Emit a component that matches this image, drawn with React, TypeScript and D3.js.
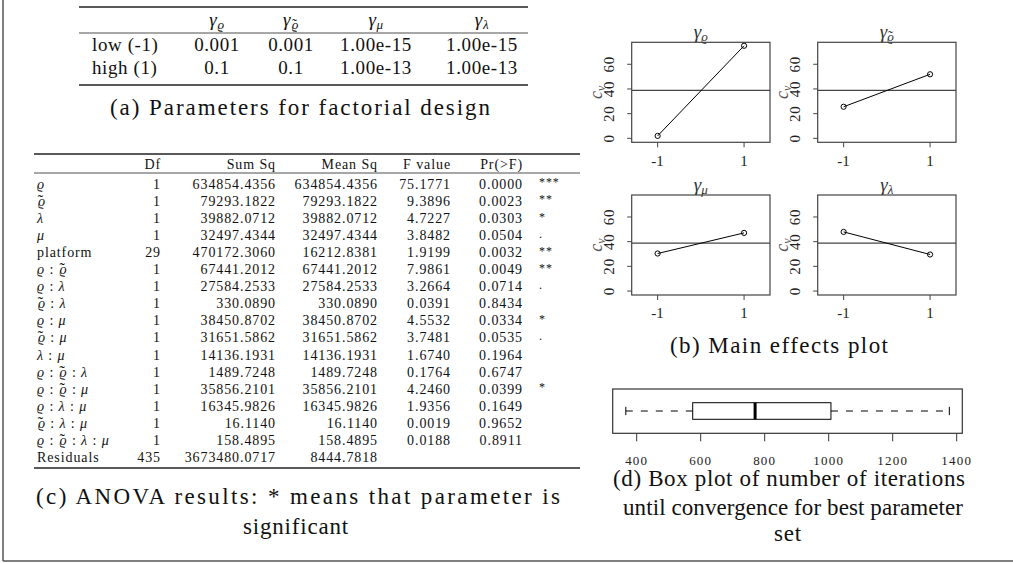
import React from "react";
import * as d3 from "d3";

const FONT = "'Liberation Serif', 'DejaVu Serif', serif";

// ---------- (a) factorial design parameters ----------
const designSubs = ["ϱ", "ϱ~", "μ", "λ"];
const designRowLabels = ["low (-1)", "high (1)"];
const designLowValues = ["0.001", "0.001", "1.00e-15", "1.00e-15"];
const designHighValues = ["0.1", "0.1", "1.00e-13", "1.00e-13"];
const designCaption = "(a) Parameters for factorial design";

// ---------- (c) ANOVA ----------
const anovaHeaders = ["Df", "Sum Sq", "Mean Sq", "F value", "Pr(>F)"];
const anovaTerms = [
  ["ϱ"], ["ϱ~"], ["λ"], ["μ"], ["platform"],
  ["ϱ", "ϱ~"], ["ϱ", "λ"], ["ϱ~", "λ"], ["ϱ", "μ"], ["ϱ~", "μ"], ["λ", "μ"],
  ["ϱ", "ϱ~", "λ"], ["ϱ", "ϱ~", "μ"], ["ϱ", "λ", "μ"], ["ϱ~", "λ", "μ"],
  ["ϱ", "ϱ~", "λ", "μ"], ["Residuals"],
];
const anovaDf = ["1", "1", "1", "1", "29", "1", "1", "1", "1", "1", "1", "1", "1", "1", "1", "1", "435"];
const anovaSumSq = [
  "634854.4356", "79293.1822", "39882.0712", "32497.4344", "470172.3060",
  "67441.2012", "27584.2533", "330.0890", "38450.8702", "31651.5862", "14136.1931",
  "1489.7248", "35856.2101", "16345.9826", "16.1140", "158.4895", "3673480.0717",
];
const anovaMeanSq = [
  "634854.4356", "79293.1822", "39882.0712", "32497.4344", "16212.8381",
  "67441.2012", "27584.2533", "330.0890", "38450.8702", "31651.5862", "14136.1931",
  "1489.7248", "35856.2101", "16345.9826", "16.1140", "158.4895", "8444.7818",
];
const anovaF = [
  "75.1771", "9.3896", "4.7227", "3.8482", "1.9199", "7.9861", "3.2664", "0.0391",
  "4.5532", "3.7481", "1.6740", "0.1764", "4.2460", "1.9356", "0.0019", "0.0188", "",
];
const anovaP = [
  "0.0000", "0.0023", "0.0303", "0.0504", "0.0032", "0.0049", "0.0714", "0.8434",
  "0.0334", "0.0535", "0.1964", "0.6747", "0.0399", "0.1649", "0.9652", "0.8911", "",
];
const anovaSig = ["***", "**", "*", ".", "**", "**", ".", "", "*", ".", "", "", "*", "", "", "", ""];
const anovaCaption1 = "(c) ANOVA results: * means that parameter is";
const anovaCaption2 = "significant";

// ---------- (b) main effects ----------
const effectSubs = ["ϱ", "ϱ~", "μ", "λ"];
const effectLevels = [-1, 1];
const effectLow = [2, 25.6, 30.4, 47.9];
const effectHigh = [75, 51.9, 47.1, 29.6];
const grandMean = 38.8;
const effectYTicks = [0, 20, 40, 60];
const effectsCaption = "(b) Main effects plot";

// ---------- (d) box plot ----------
const iterStats = [366, 575, 770, 1007, 1377]; // whisker lo, Q1, median, Q3, whisker hi
const iterTicks = [400, 600, 800, 1000, 1200, 1400];
const boxCaption = [
  "(d) Box plot of number of iterations",
  "until convergence for best parameter",
  "set",
];

const isWord = (p: string) => p.length > 2;

// renders a math symbol; "ϱ~" = varrho with a tilde on top
function sym(p: string, f: number, key: string, italic = true) {
  if (p === "ϱ~") {
    return [
      <tspan key={key + "b"} fontStyle="normal" fontSize={f * 1.15} dx={0.06 * f}>
        {"˜"}
      </tspan>,
      <tspan key={key + "a"} fontStyle="italic" fontSize={f} dx={-0.443 * f}>ϱ</tspan>,
    ];
  }
  return [
    <tspan key={key} fontStyle={italic ? "italic" : "normal"}>{p}</tspan>,
  ];
}

function Term({ parts, f }: { parts: string[]; f: number }) {
  const nodes: any[] = [];
  parts.forEach((p, i) => {
    if (i > 0) nodes.push(<tspan key={"c" + i} fontStyle="normal">{"\u00A0:\u00A0"}</tspan>);
    nodes.push(...sym(p, f, "p" + i, !isWord(p)));
  });
  return <>{nodes}</>;
}

function GammaSub({ sub, size, subSize, dy }: { sub: string; size: number; subSize: number; dy: number }) {
  return (
    <>
      <tspan fontStyle="italic" fontSize={size}>γ</tspan>
      <tspan fontSize={subSize} dy={dy}>{sym(sub, subSize, "s")}</tspan>
    </>
  );
}

export default function App() {
  const W = 1013;
  const H = 564;

  // ----- table (a) -----
  const aRuleX = [79, 528];
  const aColX = [217, 291, 376, 482];
  const aRowY = d3.scalePoint<string>().domain(["h", ...designRowLabels]).range([22, 67]);
  const aRows = [designLowValues, designHighValues];
  const aFont = 19;

  // ----- table (c) -----
  const cRuleX = [34, 580];
  const cRowY = d3.scaleLinear().domain([0, anovaTerms.length - 1]).range([184, 457]);
  const cRight = [161, 276, 378, 451, 523];
  const cCols = [anovaDf, anovaSumSq, anovaMeanSq, anovaF, anovaP];
  const cFont = 14;
  const cLS = 0.9;
  const cBase = (r: number) => cRowY(r) + 0.35 * cFont;

  // ----- main effects -----
  const pw = 138.3;
  const ph = 100;
  const ex = d3.scaleLinear().domain([-1.6, 1.6]).range([0, pw]);
  const ey = d3.scaleLinear().domain([-3.2, 77.8]).range([ph, 0]);
  const panelPos = [
    [631.7, 42.3],
    [817.7, 42.3],
    [631.7, 195],
    [817.7, 195],
  ];
  const effLine = d3
    .line<[number, number]>()
    .x((d) => ex(d[0]))
    .y((d) => ey(d[1]));

  // ----- box plot -----
  const bx = d3.scaleLinear().domain([325, 1417.5]).range([612.7, 962.3]);
  const bTop = 389;
  const bBottom = 433.3;
  const bMid = 411;
  const bHalf = 8.3;

  const textColor = "#111";
  const capFont = 23;

  return (
    <svg
      width={W}
      height={H}
      viewBox={`0 0 ${W} ${H}`}
      style={{ position: "absolute", left: 0, top: 0, background: "#fff" }}
      fontFamily={FONT}
    >
      <rect width={W} height={H} fill="#fff" />
      {/* outer frame */}
      <line x1={3} y1={0} x2={3} y2={561} stroke="#555" strokeWidth={1.5} />
      <line x1={3} y1={561} x2={W} y2={561} stroke="#555" strokeWidth={1.5} />

      {/* ===== (a) ===== */}
      <g fill={textColor} fontSize={aFont} style={{ letterSpacing: "0.6px" }}>
        <line x1={aRuleX[0]} x2={aRuleX[1]} y1={7} y2={7} stroke="#222" strokeWidth={1.3} />
        <line x1={aRuleX[0]} x2={aRuleX[1]} y1={33} y2={33} stroke="#222" strokeWidth={0.8} />
        <line x1={aRuleX[0]} x2={aRuleX[1]} y1={85} y2={85} stroke="#222" strokeWidth={1.3} />
        {designSubs.map((s, i) => (
          <text key={"ah" + i} x={aColX[i]} y={aRowY("h")! + 0.2 * aFont} textAnchor="middle">
            <GammaSub sub={s} size={aFont} subSize={13} dy={3} />
          </text>
        ))}
        {designRowLabels.map((lab, r) => (
          <g key={"ar" + r}>
            <text x={92} y={aRowY(lab)! + 0.35 * aFont}>{lab}</text>
            {aRows[r].map((v, i) => (
              <text key={i} x={aColX[i]} y={aRowY(lab)! + 0.35 * aFont} textAnchor="middle">
                {v}
              </text>
            ))}
          </g>
        ))}
        <text x={300} y={107 + 0.35 * capFont} textAnchor="middle" fontSize={capFont} textLength={380} lengthAdjust="spacing" style={{ letterSpacing: "0px" }}>
          {designCaption}
        </text>
      </g>

      {/* ===== (c) ===== */}
      <g fill={textColor} fontSize={cFont} style={{ letterSpacing: cLS + "px" }}>
        <line x1={cRuleX[0]} x2={cRuleX[1]} y1={154} y2={154} stroke="#222" strokeWidth={1.3} />
        <line x1={cRuleX[0]} x2={cRuleX[1]} y1={173} y2={173} stroke="#222" strokeWidth={0.8} />
        <line x1={cRuleX[0]} x2={cRuleX[1]} y1={468} y2={468} stroke="#222" strokeWidth={1.3} />
        {anovaHeaders.map((h, i) => (
          <text key={"ch" + i} x={cRight[i]} y={164 + 0.35 * cFont} textAnchor="end">
            {h}
          </text>
        ))}
        {anovaTerms.map((t, r) => (
          <g key={"cr" + r}>
            <text x={37} y={cBase(r)}>
              <Term parts={t} f={cFont} />
            </text>
            {cCols.map((col, c) =>
              col[r] ? (
                <text key={c} x={cRight[c]} y={cBase(r)} textAnchor="end">
                  {col[r]}
                </text>
              ) : null
            )}
            {anovaSig[r] ? (
              <text x={539} y={cBase(r) - 2.5} fontSize={12}>
                {anovaSig[r]}
              </text>
            ) : null}
          </g>
        ))}
        <text x={298} y={496 + 0.35 * capFont} textAnchor="middle" fontSize={capFont} textLength={524} lengthAdjust="spacing" style={{ letterSpacing: "0px" }}>
          {anovaCaption1}
        </text>
        <text x={296} y={526 + 0.35 * capFont} textAnchor="middle" fontSize={capFont} style={{ letterSpacing: "0.8px" }}>
          {anovaCaption2}
        </text>
      </g>

      {/* ===== (b) main effects ===== */}
      {effectSubs.map((s, k) => {
        const [ox, oy] = panelPos[k];
        const pts: [number, number][] = [
          [effectLevels[0], effectLow[k]],
          [effectLevels[1], effectHigh[k]],
        ];
        return (
          <g key={"p" + k} transform={`translate(${ox},${oy})`} fill="#222">
            <text x={pw / 2} y={-11 + 0.35 * 19} textAnchor="middle" fill="#333">
              <GammaSub sub={s} size={19} subSize={13} dy={3} />
            </text>
            <line x1={0} x2={pw} y1={ey(grandMean)} y2={ey(grandMean)} stroke="#444" strokeWidth={1.2} />
            <path d={effLine(pts) || ""} fill="none" stroke="#000" strokeWidth={1} />
            {pts.map((p, i) => (
              <circle key={i} cx={ex(p[0])} cy={ey(p[1])} r={2.6} fill="none" stroke="#000" strokeWidth={1} />
            ))}
            <rect x={0} y={0} width={pw} height={ph} fill="none" stroke="#444" strokeWidth={1.2} />
            {effectYTicks.map((t) => (
              <g key={"yt" + t}>
                <line x1={-4.5} x2={0} y1={ey(t)} y2={ey(t)} stroke="#444" strokeWidth={1} />
                <text
                  transform={`translate(${-17.5},${ey(t)}) rotate(-90)`}
                  textAnchor="middle"
                  fontSize={15}
                  style={{ letterSpacing: "0.8px" }}
                >
                  {t}
                </text>
              </g>
            ))}
            {effectLevels.map((l) => (
              <g key={"xt" + l}>
                <line x1={ex(l)} x2={ex(l)} y1={ph} y2={ph + 5} stroke="#444" strokeWidth={1} />
                <text x={ex(l)} y={ph + 18 + 0.35 * 15} textAnchor="middle" fontSize={15}>
                  {l}
                </text>
              </g>
            ))}
            <text
              transform={`translate(${-35},${ph / 2}) rotate(-90)`}
              textAnchor="middle"
              y={0.3 * 18}
              fill="#555"
              fontSize={18}
            >
              <tspan fontStyle="italic">c</tspan>
              <tspan fontStyle="italic" fontSize={12} dy={3}>v</tspan>
            </text>
          </g>
        );
      })}
      <text x={779} y={345 + 0.35 * capFont} textAnchor="middle" fontSize={capFont} fill={textColor} textLength={218} lengthAdjust="spacing">
        {effectsCaption}
      </text>

      {/* ===== (d) box plot ===== */}
      <g>
        <rect x={bx(325)} y={bTop} width={bx(1417.5) - bx(325)} height={bBottom - bTop} fill="none" stroke="#333" strokeWidth={1.2} />
        <line x1={bx(iterStats[0])} x2={bx(iterStats[1])} y1={bMid} y2={bMid} stroke="#000" strokeDasharray="7,8" />
        <line x1={bx(iterStats[3])} x2={bx(iterStats[4])} y1={bMid} y2={bMid} stroke="#000" strokeDasharray="7,8" />
        <line x1={bx(iterStats[0])} x2={bx(iterStats[0])} y1={bMid - bHalf / 2} y2={bMid + bHalf / 2} stroke="#000" />
        <line x1={bx(iterStats[4])} x2={bx(iterStats[4])} y1={bMid - bHalf / 2} y2={bMid + bHalf / 2} stroke="#000" />
        <rect x={bx(iterStats[1])} y={bMid - bHalf} width={bx(iterStats[3]) - bx(iterStats[1])} height={bHalf * 2} fill="none" stroke="#000" strokeWidth={1} />
        <line x1={bx(iterStats[2])} x2={bx(iterStats[2])} y1={bMid - bHalf} y2={bMid + bHalf} stroke="#000" strokeWidth={3} />
        {iterTicks.map((t) => (
          <g key={"bt" + t}>
            <line x1={bx(t)} x2={bx(t)} y1={bBottom} y2={bBottom + 8} stroke="#333" />
            <text x={bx(t)} y={460 + 0.35 * 13} textAnchor="middle" fontSize={13} fill="#222" style={{ letterSpacing: "1.2px" }}>
              {t}
            </text>
          </g>
        ))}
        <text x={789} y={478 + 0.35 * capFont} textAnchor="middle" fontSize={capFont} fill={textColor} textLength={352} lengthAdjust="spacing">
          {boxCaption[0]}
        </text>
        <text x={793} y={507 + 0.35 * capFont} textAnchor="middle" fontSize={capFont} fill={textColor} textLength={340} lengthAdjust="spacing">
          {boxCaption[1]}
        </text>
        <text x={788} y={533 + 0.35 * capFont} textAnchor="middle" fontSize={capFont} fill={textColor} style={{ letterSpacing: "0.8px" }}>
          {boxCaption[2]}
        </text>
      </g>
    </svg>
  );
}
